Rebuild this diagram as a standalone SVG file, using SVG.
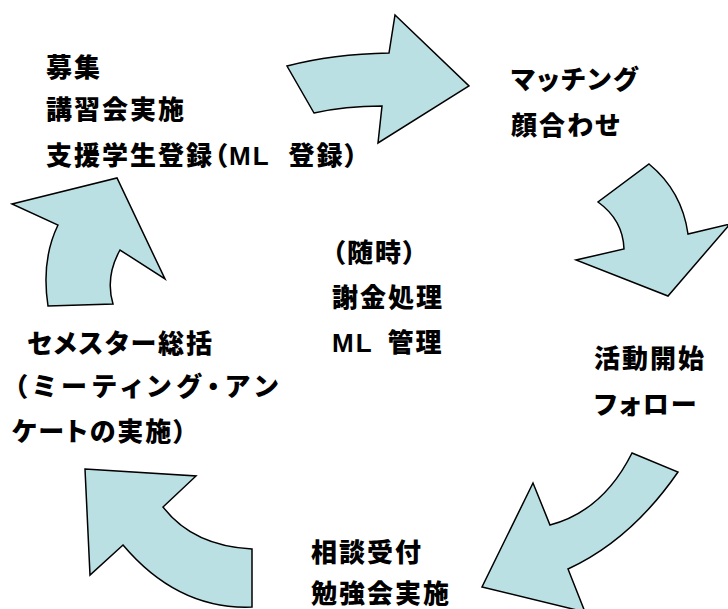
<svg xmlns="http://www.w3.org/2000/svg" width="728" height="609" viewBox="0 0 728 609">
<style>
.t{font-family:"Liberation Sans","Noto Sans CJK JP",sans-serif;font-weight:900;font-size:26px;fill:#000;letter-spacing:2px;font-feature-settings:"palt"}
.a{fill:#BBE0E3;stroke:#000;stroke-width:1.5;stroke-linejoin:miter}
</style>
<rect width="728" height="609" fill="#fff"/>
<g id="connectors">
<path class="a" d="M287,66 Q333,54 389,53 L395,15 L469,86 L378,143 L382,106 Q345,106 314,113 Z"/>
<path class="a" d="M649,164 Q682,191 688,234 L730,224 L668,296 L576,260 L624,249 Q623,220 598,202 Z"/>
<path class="a" d="M632,453 L678,472 Q631,540 568,569 L585,612 L482,587 L533,483 L550,525 Q603,511 632,453 Z"/>
<path class="a" d="M85,469 L196,476 L163,507 Q193,546 252,549 L252,607 Q178,610 123,545 L90,575 Z"/>
<path class="a" d="M12,204 L117,178 L165,279 L120,250 Q105,277 113,304 L48,306 Q41,260 58,225 Z"/>
</g>
<g id="node-recruit">
<text class="t" x="46" y="77">募集</text>
<text class="t" x="46" y="119">講習会実施</text>
<text class="t" x="46" y="165">支援学生登録（ML<tspan dx="18">登録）</tspan></text>
</g>
<g id="node-matching">
<text class="t" x="511" y="89">マッチング</text>
<text class="t" x="511" y="135">顔合わせ</text>
</g>
<g id="node-start">
<text class="t" x="594" y="368">活動開始</text>
<text class="t" x="594" y="414">フォロー</text>
</g>
<g id="node-consult">
<text class="t" x="311" y="562">相談受付</text>
<text class="t" x="311" y="603">勉強会実施</text>
</g>
<g id="node-semester">
<text class="t" x="27" y="353">セメスター総括</text>
<text class="t" x="14" y="396" textLength="266" lengthAdjust="spacing">（ミーティング・アン</text>
<text class="t" x="12" y="441">ケートの実施）</text>
</g>
<g id="node-anytime">
<text class="t" x="332" y="262">（随時）</text>
<text class="t" x="332" y="307">謝金処理</text>
<text class="t" x="332" y="352">ML<tspan dx="14">管理</tspan></text>
</g>
</svg>
